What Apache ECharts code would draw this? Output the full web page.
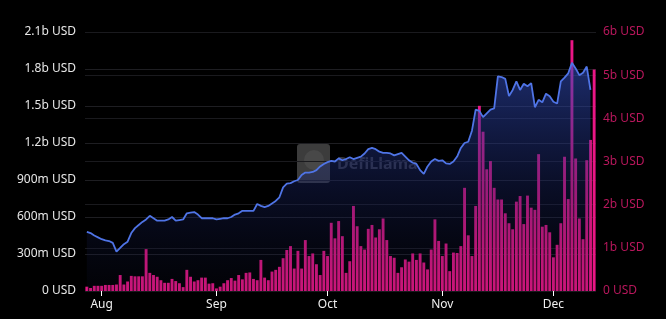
<!DOCTYPE html>
<html>
<head>
<meta charset="utf-8">
<script src="https://cdn.jsdelivr.net/npm/echarts@6/dist/echarts.min.js"></script>
<style>
html,body{margin:0;padding:0;background:#000;}
#chart{width:666px;height:319px;}
</style>
</head>
<body>
<div id="chart"></div>
<script>
// Daily categories: 2023-07-28 .. 2023-12-12
const startDate = '2023-07-28';
const dayCount = 138;
const monthNames = ['Jan','Feb','Mar','Apr','May','Jun','Jul','Aug','Sep','Oct','Nov','Dec'];

// Daily volume (billions USD, right axis)
const volumeB = [
  0.10,0.07,0.12,0.12,0.12,0.14,0.14,0.14,0.15,0.37,
  0.15,0.22,0.35,0.34,0.34,0.34,0.97,0.42,0.37,0.33,
  0.25,0.19,0.19,0.28,0.23,0.18,0.09,0.49,0.33,0.22,
  0.25,0.31,0.31,0.17,0.18,0.06,0.10,0.18,0.25,0.30,
  0.24,0.37,0.27,0.42,0.43,0.28,0.25,0.72,0.31,0.25,
  0.45,0.49,0.56,0.76,0.95,1.04,0.52,0.93,0.52,1.18,
  0.81,0.87,0.62,0.37,0.93,0.81,1.58,1.22,1.62,1.27,
  0.42,0.69,1.97,1.50,1.04,0.96,1.44,1.53,1.24,1.43,
  1.68,1.18,0.81,0.77,0.42,0.55,0.73,0.68,0.87,0.72,
  0.87,0.66,0.50,0.96,1.66,1.16,0.81,1.10,0.46,0.89,
  0.88,1.04,2.39,1.29,0.81,1.97,4.29,3.69,2.82,3.01,
  2.39,2.12,2.12,1.80,1.57,1.43,2.07,2.20,1.55,2.21,
  1.93,1.88,3.17,1.49,1.53,1.36,0.78,1.07,1.57,3.11,
  2.13,5.81,3.07,1.68,1.20,3.03,3.50,5.13
];

// TVL (billions USD, left axis)
const tvlB = [
  0.48,0.47,0.45,0.435,0.42,0.41,0.405,0.39,0.32,0.35,
  0.38,0.40,0.47,0.51,0.535,0.56,0.58,0.61,0.59,0.57,
  0.57,0.57,0.58,0.60,0.57,0.575,0.58,0.63,0.635,0.64,
  0.62,0.59,0.59,0.59,0.59,0.58,0.585,0.59,0.59,0.60,
  0.62,0.63,0.65,0.65,0.65,0.65,0.705,0.69,0.68,0.69,
  0.71,0.73,0.76,0.84,0.87,0.875,0.89,0.90,0.94,0.96,
  0.96,0.965,0.98,1.01,1.03,1.045,1.055,1.05,1.075,1.06,
  1.07,1.085,1.07,1.08,1.09,1.115,1.15,1.16,1.15,1.13,
  1.12,1.12,1.115,1.10,1.11,1.12,1.09,1.06,1.04,1.03,
  0.98,0.95,1.01,1.05,1.07,1.055,1.06,1.035,1.03,1.05,
  1.09,1.16,1.20,1.21,1.30,1.47,1.46,1.41,1.44,1.47,
  1.48,1.74,1.735,1.72,1.58,1.63,1.70,1.63,1.68,1.66,
  1.685,1.49,1.55,1.53,1.60,1.58,1.535,1.52,1.70,1.73,
  1.765,1.85,1.805,1.75,1.77,1.82,1.63,null
];

const leftTicks = ['0 USD','300m USD','600m USD','900m USD','1.2b USD','1.5b USD','1.8b USD','2.1b USD'];
const rightTicks = ['0 USD','1b USD','2b USD','3b USD','4b USD','5b USD','6b USD'];

const categories = [];
{
  const d0 = new Date(startDate + 'T00:00:00Z');
  for (let k = 0; k < dayCount; k++) {
    const d = new Date(d0.getTime() + k * 86400000);
    const m = String(d.getUTCMonth() + 1).padStart(2, '0');
    const dd = String(d.getUTCDate()).padStart(2, '0');
    categories.push(d.getUTCFullYear() + '-' + m + '-' + dd);
  }
}

const isMonthStart = (idx, val) => String(val).slice(8, 10) === '01';
const FONT = 'Noto Sans';

const chart = echarts.init(document.getElementById('chart'), null, {renderer: 'canvas'});
chart.setOption({
  backgroundColor: '#000000',
  animation: false,
  textStyle: {fontFamily: FONT},
  grid: {left: 85, right: 70, top: 32, bottom: 28, containLabel: false},
  graphic: [
    {type: 'rect', z: 0, shape: {x: 297, y: 144, width: 33, height: 39, r: 3},
     style: {fill: 'rgba(120,120,120,0.5)'}},
    {type: 'circle', z: 0, shape: {cx: 314, cy: 160, r: 10},
     style: {fill: 'rgba(80,80,80,0.6)'}},
    {type: 'text', z: 0, x: 337, y: 164,
     style: {text: 'DefiLlama', fill: 'rgba(150,150,165,0.35)', font: 'bold 16px "Noto Sans"', verticalAlign: 'middle'}}
  ],
  xAxis: {
    type: 'category',
    data: categories,
    boundaryGap: true,
    axisLine: {show: false},
    axisTick: {show: true, interval: isMonthStart, alignWithLabel: true, length: 5, lineStyle: {color: '#ffffff', width: 1}},
    axisLabel: {
      interval: isMonthStart, margin: 8, color: '#f0f0f0', fontSize: 12, fontFamily: FONT,
      formatter: v => monthNames[parseInt(v.slice(5, 7), 10) - 1]
    },
    splitLine: {show: false}
  },
  yAxis: [
    {
      type: 'value', min: 0, max: 2.1e9, interval: 3e8, position: 'left',
      axisLine: {show: false}, axisTick: {show: false},
      axisLabel: {color: '#e6e6e6', fontSize: 12, fontFamily: FONT, margin: 9,
        formatter: v => leftTicks[Math.round(v / 3e8)]},
      splitLine: {show: true, lineStyle: {color: '#1e1e22', width: 1}}
    },
    {
      type: 'value', min: 0, max: 6e9, interval: 1e9, position: 'right',
      axisLine: {show: false}, axisTick: {show: false},
      axisLabel: {color: '#b8175c', fontSize: 12, fontFamily: FONT, margin: 7,
        formatter: v => rightTicks[Math.round(v / 1e9)]},
      splitLine: {show: true, lineStyle: {color: '#1a1a1e', width: 1}}
    }
  ],
  series: [
    {
      name: 'Volume', type: 'bar', yAxisIndex: 1, z: 2,
      data: volumeB.map(v => v * 1e9),
      barCategoryGap: '22%',
      itemStyle: {color: '#ea1686'}
    },
    {
      name: 'TVL', type: 'line', yAxisIndex: 0, z: 3,
      data: tvlB.map(v => v == null ? null : v * 1e9),
      symbol: 'none', smooth: false,
      lineStyle: {color: '#4f74e6', width: 1.8},
      areaStyle: {
        color: new echarts.graphic.LinearGradient(0, 0, 0, 1, [
          {offset: 0, color: 'rgba(52,80,195,0.8)'},
          {offset: 0.55, color: 'rgba(25,36,100,0.55)'},
          {offset: 1, color: 'rgba(14,18,48,0.2)'}
        ])
      }
    }
  ]
});
</script>
</body>
</html>
